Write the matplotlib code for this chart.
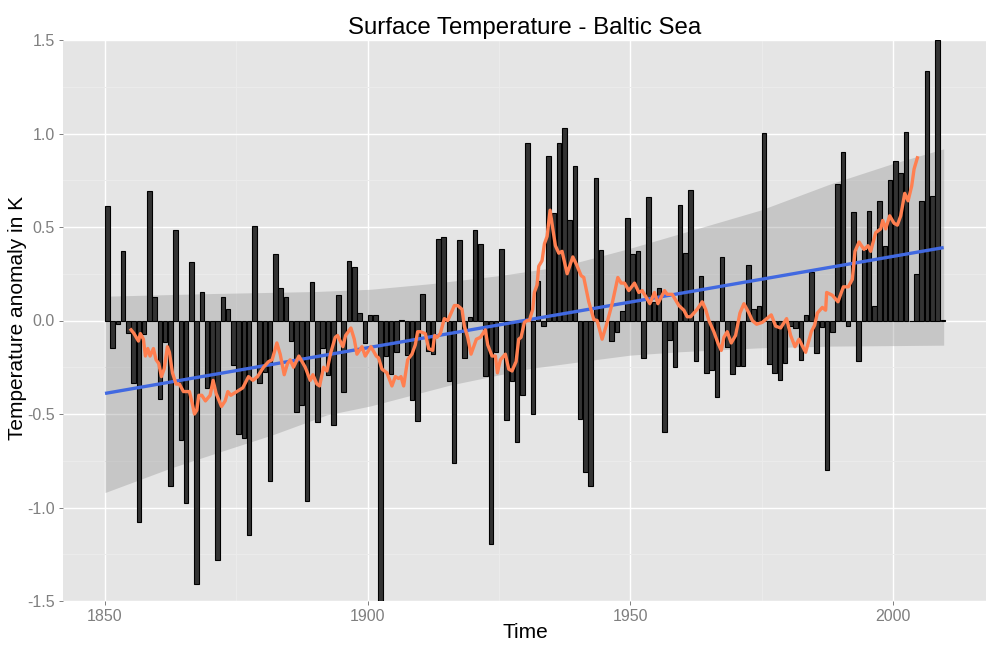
import numpy as np
import matplotlib
matplotlib.use("Agg")
import matplotlib.pyplot as plt

plt.rcParams['font.family'] = ['Liberation Sans', 'DejaVu Sans']

#yearly anomaly, one bar per year from 1850
first_year = 1850
anomaly = [
	0.61, -0.148, -0.018, 0.372, -0.066, -0.336, -1.08, -0.07, 0.69, 0.125,
	-0.42, -0.114, -0.886, 0.482, -0.639, -0.977, 0.315, -1.41, 0.155, -0.36,
	-0.35, -1.28, 0.126, 0.064, -0.238, -0.607, -0.63, -1.146, 0.505, -0.333,
	-0.276, -0.856, 0.354, 0.176, 0.123, -0.108, -0.488, -0.45, -0.963, 0.208,
	-0.544, -0.146, -0.29, -0.557, 0.139, -0.38, 0.32, 0.285, 0.041, -0.12,
	0.027, 0.027, -1.503, -0.189, -0.285, -0.167, 0.005, -0.185, -0.425, -0.537,
	0.142, -0.164, -0.18, 0.438, 0.448, -0.322, -0.76, 0.432, -0.2, 0.02,
	0.482, 0.41, -0.295, -1.196, -0.168, 0.38, -0.532, -0.325, -0.65, -0.397,
	0.95, -0.498, 0.212, -0.028, 0.88, 0.576, 0.947, 1.03, 0.54, 0.827,
	-0.527, -0.808, -0.884, 0.76, 0.375, -0.005, -0.11, -0.064, 0.052, 0.55,
	0.358, 0.37, -0.203, 0.662, 0.1, 0.174, -0.598, -0.105, -0.25, 0.62,
	0.363, 0.7, -0.217, 0.237, -0.283, -0.265, -0.41, 0.34, -0.144, -0.288,
	-0.242, -0.244, 0.297, 0.059, 0.075, 1.005, -0.231, -0.283, -0.318, -0.226,
	-0.03, -0.04, -0.21, 0.028, 0.26, -0.176, -0.035, -0.80, -0.059, 0.73,
	0.90, -0.032, 0.582, -0.215, 0.375, 0.587, 0.077, 0.64, 0.40, 0.754,
	0.852, 0.788, 1.009, -0.003, 0.25, 0.64, 1.336, 0.665, 1.5, 0.002,
]

#running mean
smooth_years = [
	1854.95, 1855.52, 1856.35, 1856.73, 1857.30, 1857.68, 1858.13, 1858.57, 1859.21, 1859.71,
	1860.22, 1860.73, 1861.24, 1861.87, 1862.25, 1862.83, 1863.52, 1864.16, 1864.92, 1866.06,
	1866.57, 1867.02, 1867.46, 1867.84, 1868.41, 1869.11, 1870.00, 1870.57, 1871.14, 1872.16,
	1872.86, 1873.37, 1873.94, 1875.08, 1876.22, 1877.30, 1878.13, 1879.02, 1880.16, 1881.11,
	1881.81, 1882.70, 1883.33, 1884.10, 1884.73, 1885.24, 1885.87, 1886.89, 1888.10, 1889.05,
	1889.56, 1890.32, 1890.83, 1891.59, 1892.22, 1892.98, 1893.81, 1894.25, 1895.27, 1895.78,
	1896.79, 1897.43, 1897.94, 1898.89, 1899.52, 1900.60, 1901.62, 1902.06, 1902.70, 1903.65,
	1904.60, 1905.24, 1905.87, 1906.32, 1906.83, 1907.59, 1908.41, 1909.05, 1909.49, 1910.00,
	1910.95, 1911.59, 1912.35, 1912.73, 1913.17, 1913.81, 1914.57, 1915.21, 1915.71, 1916.48,
	1917.11, 1917.94, 1918.38, 1919.02, 1919.65, 1920.67, 1921.43, 1922.38, 1922.83, 1923.65,
	1924.29, 1924.67, 1925.24, 1926.19, 1926.83, 1927.46, 1928.22, 1928.73, 1929.17, 1929.81,
	1930.32, 1930.76, 1931.40, 1931.71, 1932.22, 1932.54, 1933.17, 1933.62, 1934.13, 1934.70,
	1935.27, 1935.71, 1936.35, 1936.98, 1937.94, 1939.02, 1939.71, 1940.60, 1941.11, 1942.06,
	1943.02, 1943.65, 1944.60, 1945.56, 1946.51, 1947.59, 1948.22, 1948.86, 1949.68, 1950.76,
	1951.59, 1952.22, 1952.86, 1953.68, 1954.57, 1955.21, 1956.48, 1956.98, 1957.94, 1959.21,
	1960.16, 1960.79, 1961.43, 1962.70, 1963.65, 1964.29, 1964.92, 1965.87, 1966.63, 1967.27,
	1967.78, 1968.41, 1969.17, 1970.00, 1970.83, 1971.59, 1972.54, 1973.17, 1974.00, 1975.08,
	1976.79, 1977.62, 1978.57, 1979.71, 1980.48, 1981.30, 1982.06, 1983.33, 1984.41, 1985.05,
	1985.56, 1986.51, 1987.14, 1987.33, 1988.41, 1989.49, 1990.51, 1991.46, 1992.22, 1992.73,
	1993.49, 1994.44, 1995.21, 1995.71, 1996.67, 1997.62, 1998.00, 1998.57, 1999.33, 2000.16,
	2000.79, 2001.43, 2002.19, 2002.83, 2003.52, 2003.97, 2004.60,
]
smooth_values = [
	-0.05, -0.07, -0.11, -0.07, -0.10, -0.19, -0.15, -0.19, -0.15, -0.21,
	-0.23, -0.30, -0.26, -0.14, -0.17, -0.28, -0.34, -0.34, -0.38, -0.38,
	-0.44, -0.50, -0.48, -0.40, -0.40, -0.43, -0.40, -0.32, -0.39, -0.46,
	-0.43, -0.38, -0.40, -0.38, -0.36, -0.30, -0.32, -0.30, -0.25, -0.22,
	-0.21, -0.12, -0.18, -0.29, -0.23, -0.21, -0.25, -0.19, -0.25, -0.32,
	-0.29, -0.34, -0.35, -0.25, -0.27, -0.17, -0.09, -0.08, -0.14, -0.08,
	-0.04, -0.10, -0.18, -0.14, -0.19, -0.14, -0.19, -0.20, -0.26, -0.28,
	-0.35, -0.30, -0.31, -0.30, -0.35, -0.21, -0.18, -0.13, -0.06, -0.06,
	-0.07, -0.15, -0.16, -0.08, -0.09, -0.07, 0.01, 0.00, 0.03, 0.08,
	0.08, 0.06, -0.03, -0.09, -0.18, -0.10, -0.09, -0.05, -0.13, -0.19,
	-0.19, -0.28, -0.21, -0.18, -0.26, -0.27, -0.22, -0.10, -0.09, -0.01,
	0.00, 0.00, 0.06, 0.15, 0.19, 0.29, 0.32, 0.41, 0.45, 0.59,
	0.48, 0.40, 0.36, 0.37, 0.25, 0.34, 0.30, 0.24, 0.23, 0.10,
	0.005, 0.00, -0.10, -0.01, 0.09, 0.23, 0.20, 0.20, 0.16, 0.20,
	0.15, 0.16, 0.13, 0.09, 0.15, 0.09, 0.16, 0.14, 0.14, 0.08,
	0.055, 0.02, 0.02, 0.06, 0.10, 0.06, 0.00, -0.06, -0.12, -0.16,
	-0.09, -0.06, -0.12, -0.08, 0.04, 0.09, 0.04, 0.00, -0.02, -0.01,
	0.03, -0.03, -0.04, 0.01, -0.08, -0.14, -0.10, -0.17, -0.06, -0.025,
	0.04, 0.07, 0.055, 0.15, 0.135, 0.10, 0.18, 0.18, 0.22, 0.37,
	0.42, 0.38, 0.40, 0.37, 0.47, 0.49, 0.535, 0.49, 0.56, 0.52,
	0.51, 0.56, 0.68, 0.64, 0.72, 0.81, 0.87,
]

#linear fit and its confidence band
fit_years = [1850, 2009.6]
fit_values = [-0.39, 0.39]
upper_years = [1850, 1870, 1890, 1900.5, 1912, 1925, 1937, 1950, 1959.5, 1974.7, 1988, 2000, 2009.6]
upper_values = [0.13, 0.144, 0.155, 0.167, 0.197, 0.24, 0.29, 0.387, 0.465, 0.59, 0.73, 0.84, 0.918]
lower_years = [1850, 1862.4, 1873.2, 1882, 1892.2, 1900.5, 1915.7, 1931, 1943.7, 1950, 1959.5, 1974.7, 1988, 2009.6]
lower_values = [-0.92, -0.79, -0.69, -0.61, -0.505, -0.457, -0.345, -0.256, -0.208, -0.185, -0.167, -0.146, -0.137, -0.132]

x_ticks = [1850, 1900, 1950, 2000]
x_minor = [1875, 1925, 1975]
y_ticks = [-1.5, -1.0, -0.5, 0.0, 0.5, 1.0, 1.5]
y_minor = [-1.25, -0.75, -0.25, 0.25, 0.75, 1.25]

fig = plt.figure(figsize=(10, 6.5), dpi=100)
ax = fig.add_axes([0.063, 49 / 650, 0.9227, 561 / 650])
ax.set_facecolor("#E5E5E5")
for spine in ax.spines.values():
	spine.set_visible(False)

#grid like ggplot
ax.set_axisbelow(True)
ax.set_xticks(x_ticks)
ax.set_yticks(y_ticks)
ax.set_xticks(x_minor, minor=True)
ax.set_yticks(y_minor, minor=True)
ax.grid(which="major", color="white", linewidth=1.0)
ax.grid(which="minor", color="#ECECEC", linewidth=0.7)
ax.tick_params(which="minor", length=0)
ax.tick_params(which="major", length=3, width=0.7, color="#7F7F7F", labelcolor="#7F7F7F", labelsize=11.5, pad=3)

#band: both edges on a common x so fill_between works
band_x = np.linspace(1850, 2009.6, 300)
ax.fill_between(band_x, np.interp(band_x, lower_years, lower_values), np.interp(band_x, upper_years, upper_values),
	color="#999999", alpha=0.4, linewidth=0, zorder=1)

years = np.arange(first_year, first_year + len(anomaly))
ax.bar(years, anomaly, width=0.86, align="edge", color="#333333", edgecolor="black", linewidth=0.8, zorder=2)

ax.plot(fit_years, fit_values, color="#4169E1", linewidth=2.4, solid_capstyle="butt", zorder=3)
ax.plot(smooth_years, smooth_values, color="#FF7F50", linewidth=2.4, solid_joinstyle="round", zorder=4)

ax.set_xlim(1842, 2017.6)
ax.set_ylim(-1.5, 1.5)
ax.set_yticklabels(["-1.5", "-1.0", "-0.5", "0.0", "0.5", "1.0", "1.5"])

fig.text(0.525, 1 - 28 / 650, "Surface Temperature - Baltic Sea", ha="center", va="center", fontsize=17.3)
fig.text(0.525, 1 - 632 / 650, "Time", ha="center", va="center", fontsize=15)
fig.text(0.018, 1 - 318 / 650, "Temperature anomaly in K", ha="center", va="center", rotation=90, fontsize=15)

fig.savefig("out.png", dpi=100)
